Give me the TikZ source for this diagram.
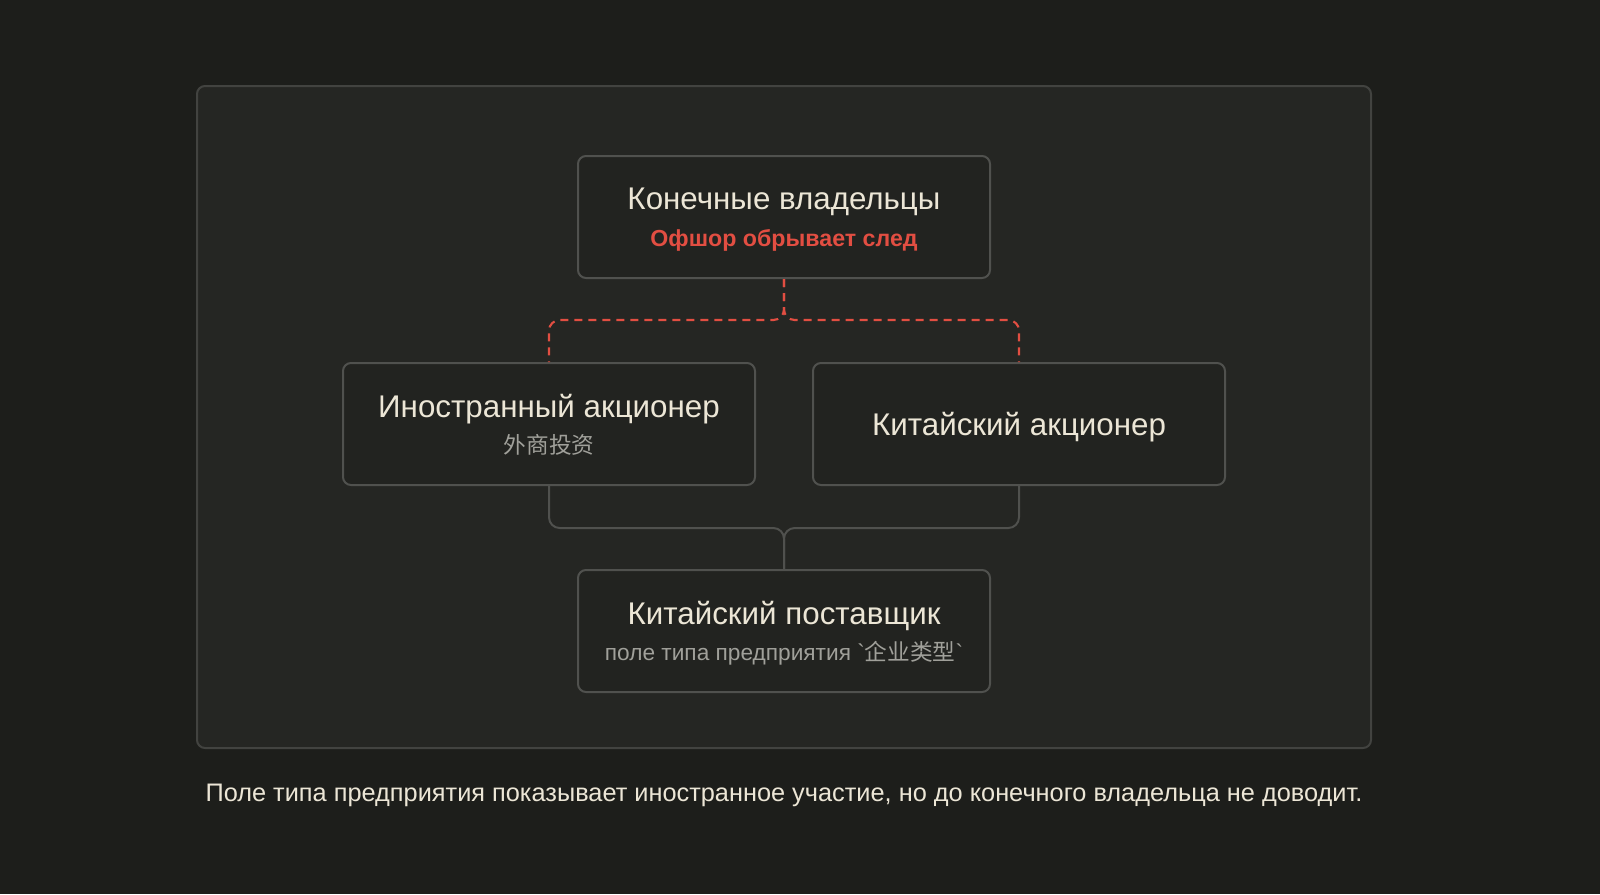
\documentclass[tikz,border=0pt]{standalone}
\usepackage{fontspec}
\setmainfont{Liberation Sans}
\newfontfamily\cjk{Noto Sans CJK SC}
\usepackage{tikz}

\definecolor{bgdark}{RGB}{29,30,27}
\definecolor{panelfill}{RGB}{37,38,35}
\definecolor{panelline}{RGB}{66,67,64}
\definecolor{boxfill}{RGB}{34,35,32}
\definecolor{boxline}{RGB}{80,81,78}
\definecolor{cream}{RGB}{236,230,214}
\definecolor{trace}{RGB}{226,78,66}
\definecolor{subgray}{RGB}{160,160,154}

\tikzset{
    entity/.style={draw=boxline, fill=boxfill, line width=1.5pt, rounded corners=6pt,
        minimum width=309pt, minimum height=91.5pt, align=center, text=cream, text depth=0pt,
        font=\fontsize{17}{27.5}\selectfont},
    tracewire/.style={draw=trace, line width=1.6pt, dash pattern=on 6pt off 4.5pt, rounded corners=8pt},
    linkwire/.style={draw=boxline, line width=1.5pt, rounded corners=8pt}
}
\newcommand{\headline}[1]{{\fontsize{23.5}{27.5}\selectfont #1}}

\begin{document}
\begin{tikzpicture}[x=0.75pt, y=-0.75pt]
    	% Background and panel:
    	\fill[bgdark] (0, 0) rectangle (1600, 894);
    	\draw[panelline, fill=panelfill, line width=1.5pt, rounded corners=6pt] (197, 86) rectangle (1371, 748);
    	% Boxes:
    	\node[entity] (owner) at (784, 217) {\headline{Конечные владельцы}\\{\color{trace}\fontsize{17.4}{27.5}\selectfont\bfseries Офшор обрывает след}};
    	\node[entity] (foreign) at (549, 424) {\headline{Иностранный акционер}\\{\color{subgray}\cjk 外商投资}};
    	\node[entity] (chinese) at (1019, 424) {\headline{Китайский акционер}};
    	\node[entity] (supplier) at (784, 631) {\headline{Китайский поставщик}\\{\color{subgray}поле типа предприятия \textasciigrave{\cjk 企业类型}\textasciigrave}};
    	% Wires:
    	\coordinate (split) at (784, 320);
    	\coordinate (merge) at (784, 528);
    	\draw[tracewire] (owner.south) -- (split) -| (foreign.north);
    	\draw[tracewire] (owner.south) -- (split) -| (chinese.north);
    	\draw[linkwire] (foreign.south) |- (merge) -- (supplier.north);
    	\draw[linkwire] (chinese.south) |- (merge) -- (supplier.north);
    	% Caption:
    	\node[text=cream, font=\fontsize{19}{23}\selectfont] (caption) at (784, 795) {Поле типа предприятия показывает иностранное участие, но до конечного владельца не доводит.};
    \end{tikzpicture}
\end{document}
